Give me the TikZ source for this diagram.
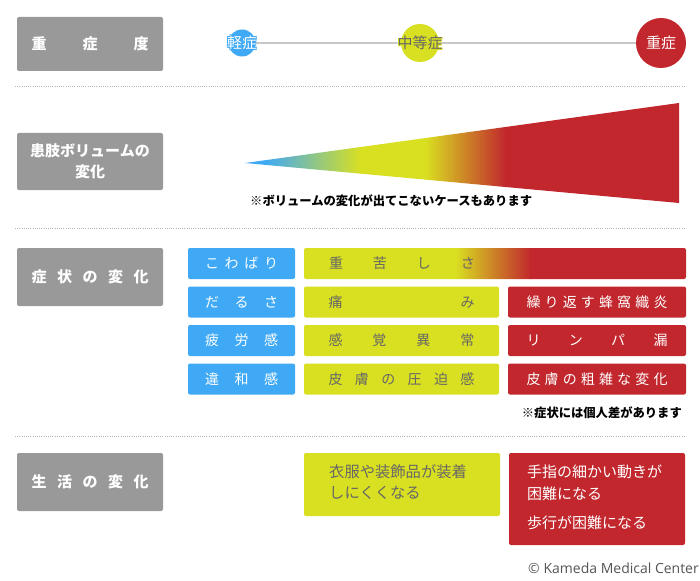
\documentclass[tikz,border=0pt]{standalone}
\usepackage{fontspec}
\setmainfont{Noto Sans CJK JP}
\newfontfamily\latinfont{Open Sans}
\usetikzlibrary{backgrounds}
\definecolor{gbox}{HTML}{999999}
\definecolor{bblue}{HTML}{3FA9F5}
\definecolor{byel}{HTML}{D9E021}
\definecolor{bred}{HTML}{C1272D}
\definecolor{tgray}{HTML}{666666}
\definecolor{lgray}{HTML}{C8C8C8}
\definecolor{sepc}{HTML}{B5B5B5}
\definecolor{copyc}{HTML}{555555}
\newcommand\spr[2]{\makebox[#1][s]{#2}}
\newcommand\fLab{\fontsize{15}{21}\selectfont\bfseries}
\newcommand\fSym{\fontsize{14}{17}\selectfont}
\newcommand\fNote{\fontsize{12.3}{15}\selectfont\bfseries}
\newcommand\fLife{\fontsize{15.3}{21}\selectfont}
\newcommand\halo[3]{\leavevmode
  \rlap{\color{#1}\raisebox{#2}{#3}}\rlap{\color{#1}\raisebox{-#2}{#3}}%
  \rlap{\color{#1}\kern#2\relax #3}\rlap{\color{#1}\kern-#2\relax #3}%
  \rlap{\color{#1}\kern#2\relax\raisebox{#2}{#3}}\rlap{\color{#1}\kern-#2\relax\raisebox{-#2}{#3}}%
  \rlap{\color{#1}\kern#2\relax\raisebox{-#2}{#3}}\rlap{\color{#1}\kern-#2\relax\raisebox{#2}{#3}}%
  #3}
\tikzset{
  lab/.style={fill=gbox, rounded corners=2pt, minimum width=146pt, text=white, font=\fLab, inner sep=0pt, align=center},
  sym/.style={rounded corners=2pt, minimum height=31pt, inner sep=0pt, font=\fSym},
  bluebox/.style={sym, fill=bblue, minimum width=107pt, text=white},
  yelbox/.style={sym, fill=byel, minimum width=195pt, text=tgray},
  redbox/.style={sym, fill=bred, minimum width=178pt, text=white},
  sepline/.style={draw=sepc, line width=0.8pt, dash pattern=on 1pt off 1.2pt},
  dot/.style={circle, inner sep=0pt, font=\fontsize{15}{17}\selectfont},
  note/.style={font=\fNote, text=black, inner sep=0pt},
}
\begin{document}
\begin{tikzpicture}[x=1pt,y=-1pt]
\begin{pgfonlayer}{background}
\fill[white] (0,0) rectangle (700,580);
\end{pgfonlayer}
\useasboundingbox (0,0) rectangle (700,580);

% separators
\draw[sepline] (15,86) -- (685,86);
\draw[sepline] (15,228) -- (685,228);
\draw[sepline] (15,436) -- (685,436);

% row 1: severity
\node[lab, minimum height=54pt] (L1) at (90,44) {\spr{117pt}{重\hfil 症\hfil 度}};
\node[dot, fill=bblue, minimum size=27pt, text=white] (c1) at (242,43) {\makebox[0pt]{\halo{bblue}{0.7pt}{軽症}}};
\node[dot, fill=byel, minimum size=38pt, text=tgray] (c2) at (420,43) {\makebox[0pt]{\halo{byel}{0.7pt}{中等症}}};
\node[dot, fill=bred, minimum size=50pt, text=white] (c3) at (661,43) {\makebox[0pt]{重症}};
\begin{pgfonlayer}{background}
\draw[lgray, line width=2pt] (c1.center) -- (c3.center);
\end{pgfonlayer}

% row 2: limb volume
\node[lab, minimum height=57pt] (L2) at (90,161.5) {患肢ボリュームの\\変化};
\begin{scope}
\clip (245,163) -- (679,103) -- (679,203) -- cycle;
\fill[bblue] (240,95) rectangle (266,210);
\shade[left color=bblue, right color=byel] (265,95) rectangle (361,210);
\fill[byel] (360,95) rectangle (426,210);
\shade[left color=byel, right color=bred] (425,95) rectangle (506,210);
\fill[bred] (505,95) rectangle (685,210);
\end{scope}
\node[note, anchor=west] (n1) at (250,201) {※ボリュームの変化が出てこないケースもあります};

% row 3: symptoms
\node[lab, minimum height=58pt] (L3) at (90,277) {\spr{117pt}{症\hfil 状\hfil の\hfil 変\hfil 化}};

\node[bluebox] (b1) at (241.5,263.5) {\spr{73pt}{こ\hfil わ\hfil ば\hfil り}};
\node[bluebox] (b2) at (241.5,302) {\spr{73pt}{だ\hfil る\hfil さ}};
\node[bluebox] (b3) at (241.5,340.5) {\spr{73pt}{疲\hfil 労\hfil 感}};
\node[bluebox] (b4) at (241.5,379) {\spr{73pt}{違\hfil 和\hfil 感}};

\begin{scope}
\clip[rounded corners=2pt] (304,248) rectangle (686,279);
\fill[byel] (300,240) rectangle (456,290);
\shade[left color=byel, right color=bred] (455,240) rectangle (531,290);
\fill[bred] (530,240) rectangle (690,290);
\end{scope}
\node[sym, text=tgray] (y1) at (402,263.5) {\spr{146pt}{重\hfil 苦\hfil し\hfil さ}};
\node[yelbox] (y2) at (401.5,302) {\spr{146pt}{痛\hfil み}};
\node[yelbox] (y3) at (401.5,340.5) {\spr{146pt}{感\hfil 覚\hfil 異\hfil 常}};
\node[yelbox] (y4) at (401.5,379) {\spr{146pt}{皮\hfil 膚\hfil の\hfil 圧\hfil 迫\hfil 感}};

\node[redbox] (r2) at (597,302) {\spr{141pt}{繰\hfil り\hfil 返\hfil す\hfil 蜂\hfil 窩\hfil 織\hfil 炎}};
\node[redbox] (r3) at (597,340.5) {\spr{141pt}{リ\hfil ン\hfil パ\hfil 漏}};
\node[redbox] (r4) at (597,379) {\spr{141pt}{皮\hfil 膚\hfil の\hfil 粗\hfil 雑\hfil な\hfil 変\hfil 化}};

\node[note, anchor=east] (n2) at (682,413) {※症状には個人差があります};

% row 4: life changes
\node[lab, minimum height=58pt] (L4) at (90,482) {\spr{117pt}{生\hfil 活\hfil の\hfil 変\hfil 化}};
\node[sym, fill=byel, minimum width=196pt, minimum height=63pt] (lf1) at (402,484.5) {};
\node[anchor=west, inner sep=0pt, font=\fLife, text=tgray, align=left] (lt1) at (329,482.5) {衣服や装飾品が装着\\しにくくなる};
\node[sym, fill=bred, minimum width=176pt, minimum height=92pt] (lf2) at (597,499) {};
\node[anchor=west, inner sep=0pt, font=\fontsize{15}{22}\selectfont, text=white, align=left] (lt2) at (527,483) {手指の細かい動きが\\困難になる};
\node[anchor=west, inner sep=0pt, font=\fontsize{15}{22}\selectfont, text=white] (lt3) at (527,523) {歩行が困難になる};

% copyright
\node[anchor=east, inner sep=0pt, font=\latinfont\fontsize{14}{16}\selectfont, text=copyc] (cp) at (699,568) {© Kameda Medical Center};
\end{tikzpicture}
\end{document}
